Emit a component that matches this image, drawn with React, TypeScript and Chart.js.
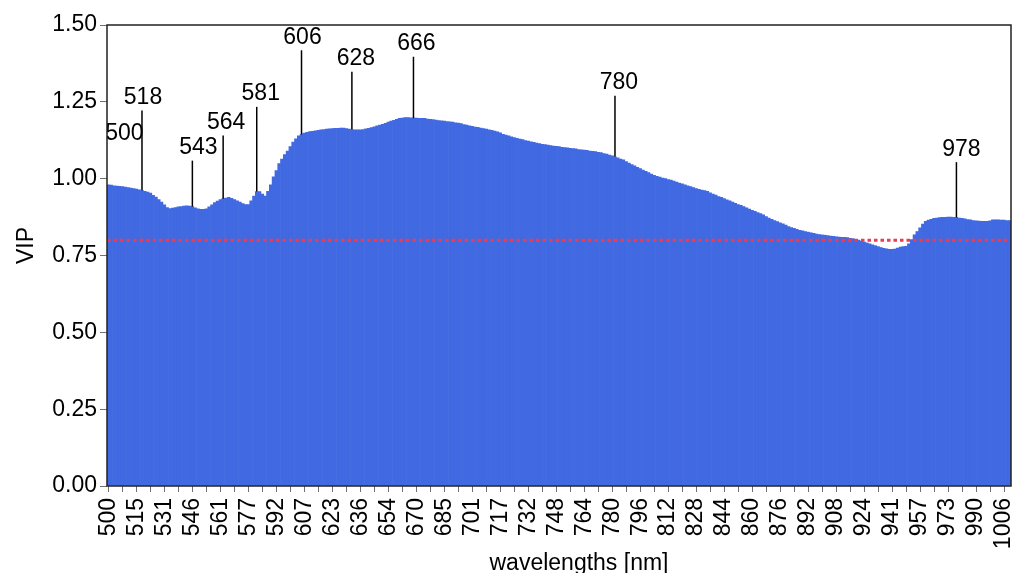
import React, { useEffect, useRef } from 'react';
import { Chart, registerables } from 'chart.js';

Chart.register(...registerables);

const FONT = "'Liberation Sans', Arial, sans-serif";

// x tick labels (one every 10 bands)
const tickLabels = [
  '500', '515', '531', '546', '561', '577', '592', '607', '623', '636', '654',
  '670', '685', '701', '717', '732', '748', '764', '780', '796', '812', '828',
  '844', '860', '876', '892', '908', '924', '941', '957', '973', '990', '1006',
];

// VIP value per band
const vip = [
  0.980, 0.979, 0.977, 0.976, 0.975, 0.974, 0.973, 0.971, 0.969, 0.968,
  0.966, 0.964, 0.962, 0.959, 0.956, 0.953, 0.946, 0.940, 0.932, 0.924,
  0.915, 0.906, 0.903, 0.904, 0.906, 0.908, 0.909, 0.911, 0.912, 0.911,
  0.909, 0.905, 0.902, 0.900, 0.900, 0.902, 0.908, 0.915, 0.922, 0.927,
  0.932, 0.935, 0.937, 0.939, 0.936, 0.932, 0.928, 0.924, 0.919, 0.916,
  0.916, 0.928, 0.943, 0.958, 0.958, 0.950, 0.943, 0.959, 0.980, 1.006,
  1.026, 1.049, 1.064, 1.078, 1.090, 1.104, 1.119, 1.130, 1.139, 1.144,
  1.148, 1.151, 1.153, 1.154, 1.156, 1.157, 1.159, 1.160, 1.161, 1.162,
  1.163, 1.164, 1.164, 1.165, 1.165, 1.163, 1.161, 1.160, 1.159, 1.159,
  1.159, 1.160, 1.162, 1.164, 1.166, 1.169, 1.172, 1.174, 1.177, 1.180,
  1.184, 1.187, 1.190, 1.193, 1.196, 1.197, 1.199, 1.199, 1.198, 1.197,
  1.197, 1.196, 1.196, 1.196, 1.194, 1.193, 1.192, 1.191, 1.189, 1.188,
  1.187, 1.186, 1.185, 1.184, 1.182, 1.181, 1.179, 1.176, 1.174, 1.172,
  1.170, 1.168, 1.167, 1.165, 1.163, 1.161, 1.159, 1.157, 1.155, 1.152,
  1.149, 1.144, 1.142, 1.139, 1.136, 1.134, 1.131, 1.129, 1.127, 1.124,
  1.122, 1.120, 1.118, 1.116, 1.114, 1.112, 1.111, 1.109, 1.108, 1.106,
  1.105, 1.104, 1.102, 1.101, 1.100, 1.099, 1.098, 1.097, 1.095, 1.094,
  1.093, 1.092, 1.090, 1.089, 1.088, 1.086, 1.085, 1.082, 1.080, 1.077,
  1.074, 1.071, 1.068, 1.064, 1.061, 1.056, 1.051, 1.046, 1.042, 1.037,
  1.033, 1.028, 1.024, 1.020, 1.015, 1.011, 1.008, 1.005, 1.002, 1.000,
  0.997, 0.995, 0.992, 0.989, 0.986, 0.983, 0.980, 0.977, 0.974, 0.971,
  0.968, 0.965, 0.963, 0.961, 0.959, 0.954, 0.950, 0.947, 0.942, 0.939,
  0.935, 0.931, 0.928, 0.924, 0.920, 0.916, 0.913, 0.909, 0.905, 0.901,
  0.897, 0.894, 0.890, 0.886, 0.882, 0.877, 0.872, 0.868, 0.864, 0.860,
  0.856, 0.853, 0.849, 0.844, 0.841, 0.838, 0.835, 0.832, 0.830, 0.828,
  0.826, 0.824, 0.822, 0.820, 0.818, 0.817, 0.816, 0.815, 0.813, 0.812,
  0.811, 0.810, 0.809, 0.809, 0.808, 0.806, 0.805, 0.803, 0.800, 0.797,
  0.794, 0.791, 0.788, 0.785, 0.782, 0.779, 0.776, 0.773, 0.772, 0.770,
  0.770, 0.771, 0.774, 0.777, 0.779, 0.780, 0.788, 0.802, 0.817, 0.828,
  0.840, 0.852, 0.861, 0.865, 0.868, 0.871, 0.872, 0.873, 0.874, 0.874,
  0.875, 0.875, 0.874, 0.874, 0.872, 0.871, 0.869, 0.867, 0.866, 0.864,
  0.863, 0.862, 0.861, 0.861, 0.861, 0.863, 0.866, 0.866, 0.866, 0.865,
  0.865, 0.864, 0.864,
];

const categories = vip.map((_, i) => String(i));

// annotated peaks
const peakText = ['500', '518', '543', '564', '581', '606', '628', '666', '780', '978'];
const peakIndex = [0, 12, 30, 41, 53, 69, 87, 109, 181, 303];
const peakLabelVip = [1.145, 1.264, 1.101, 1.183, 1.276, 1.460, 1.390, 1.439, 1.312, 1.096];
const peakHasLine = [false, true, true, true, true, true, true, true, true, true];
const peakDx = [16, 1, 6, 3, 4, 1, 4, 3, 4, 5];

const threshold = 0.8;

export default function App() {
  const ref = useRef<HTMLCanvasElement>(null);

  useEffect(() => {
    const canvas = ref.current;
    if (!canvas) return;

    const overlay = {
      id: 'overlay',
      afterDatasetsDraw(chart: any) {
        const { ctx, chartArea: a, scales } = chart;
        const x = scales.x;
        const y = scales.y;
        ctx.save();
        ctx.beginPath();
        ctx.rect(a.left, a.top, a.right - a.left, a.bottom - a.top);
        ctx.clip();

        // threshold line
        const ty = y.getPixelForValue(threshold);
        ctx.strokeStyle = '#ef3a4f';
        ctx.lineWidth = 3;
        ctx.setLineDash([3.5, 3]);
        ctx.beginPath();
        ctx.moveTo(a.left, ty);
        ctx.lineTo(a.right, ty);
        ctx.stroke();
        ctx.setLineDash([]);

        // peak annotations
        ctx.font = `23px ${FONT}`;
        ctx.fillStyle = '#000';
        ctx.textAlign = 'center';
        ctx.textBaseline = 'middle';
        peakText.forEach((t, k) => {
          const i = peakIndex[k];
          const px = x.getPixelForValue(i);
          const ly = y.getPixelForValue(peakLabelVip[k]);
          if (peakHasLine[k]) {
            ctx.strokeStyle = '#000';
            ctx.lineWidth = 1.5;
            ctx.beginPath();
            ctx.moveTo(px, y.getPixelForValue(vip[i]));
            ctx.lineTo(px, ly + 13);
            ctx.stroke();
          }
          ctx.fillText(t, px + peakDx[k], ly);
        });
        ctx.restore();

        // plot frame
        ctx.save();
        ctx.strokeStyle = '#222';
        ctx.lineWidth = 1.5;
        ctx.strokeRect(a.left, a.top, a.right - a.left, a.bottom - a.top);
        ctx.restore();
      },
      afterDraw(chart: any) {
        const { ctx, chartArea: a } = chart;
        ctx.save();
        ctx.font = `23px ${FONT}`;
        ctx.fillStyle = '#000';
        ctx.textAlign = 'center';
        ctx.textBaseline = 'alphabetic';
        ctx.fillText('wavelengths [nm]', (a.left + a.right) / 2 + 20, 570);
        ctx.translate(27, (a.top + a.bottom) / 2 - 10);
        ctx.rotate(-Math.PI / 2);
        ctx.textBaseline = 'middle';
        ctx.fillText('VIP', 0, 0);
        ctx.restore();
      },
    };

    const chart = new Chart(canvas, {
      type: 'bar',
      data: {
        labels: categories,
        datasets: [
          {
            data: vip,
            backgroundColor: '#4169e1',
            borderWidth: 0,
            barPercentage: 1,
            categoryPercentage: 1,
          },
        ],
      },
      options: {
        animation: false,
        responsive: false,
        devicePixelRatio: 1,
        layout: { padding: { top: 25, right: 5, left: 0, bottom: 0 } },
        plugins: {
          legend: { display: false },
          tooltip: { enabled: false },
          title: { display: false },
        },
        scales: {
          x: {
            type: 'category',
            offset: true,
            grid: {
              display: true,
              drawOnChartArea: false,
              drawTicks: true,
              tickLength: 6,
              offset: false,
              lineWidth: 1,
              color: (c: any) => (c.index % 5 === 0 ? '#707070' : 'rgba(0,0,0,0)'),
            },
            border: { display: false },
            ticks: {
              autoSkip: false,
              maxRotation: 90,
              minRotation: 90,
              padding: 6,
              color: '#000',
              font: { family: FONT, size: 23 },
              callback: (_v: any, index: number) =>
                index % 10 === 0 ? tickLabels[index / 10] ?? '' : '',
            },
            afterFit: (s: any) => {
              s.height = 87;
              s.paddingLeft = 0;
              s.paddingRight = 0;
            },
          },
          y: {
            min: 0,
            max: 1.5,
            grid: {
              drawOnChartArea: false,
              drawTicks: true,
              tickLength: 7,
              color: '#707070',
            },
            border: { display: false },
            ticks: {
              stepSize: 0.25,
              padding: 3,
              color: '#000',
              font: { family: FONT, size: 23 },
              callback: (v: any) => Number(v).toFixed(2),
            },
            afterFit: (s: any) => {
              s.width = 107;
              s.paddingTop = 0;
              s.paddingBottom = 0;
            },
          },
        },
      },
      plugins: [overlay],
    } as any);

    return () => chart.destroy();
  }, []);

  return (
    <div style={{ position: 'fixed', left: 0, top: 0, width: 1016, height: 573, overflow: 'hidden', background: '#fff' }}>
      <canvas ref={ref} width={1016} height={573} style={{ display: 'block' }} />
    </div>
  );
}
